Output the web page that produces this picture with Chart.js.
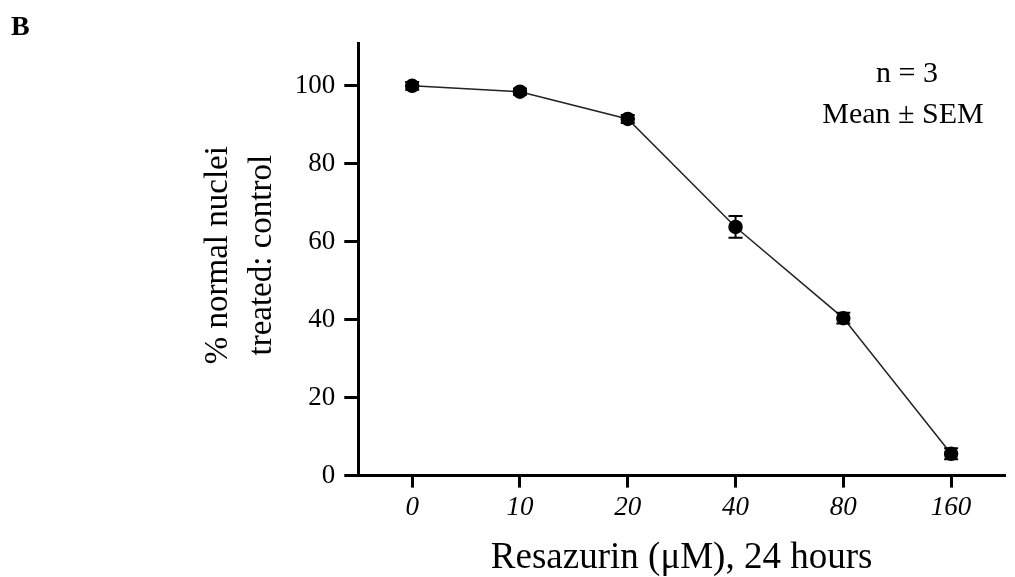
<!DOCTYPE html>
<html>
<head>
<meta charset="utf-8">
<script src="https://cdn.jsdelivr.net/npm/chart.js@4.4.1/dist/chart.umd.min.js"></script>
<style>
  html, body { margin: 0; padding: 0; background: #fff; }
  #wrap { width: 1015px; height: 577px; position: relative; }
</style>
</head>
<body>
<div id="wrap"><canvas id="resazurinChart"></canvas></div>
<script>
// Dose (µM) categories on the x axis
const doses = ['0', '10', '20', '40', '80', '160'];

// % normal nuclei (treated : control), mean of n = 3
const meanNuclei = [100, 98.5, 91.5, 63.8, 40.4, 5.6];

// standard error of the mean for each dose
const semNuclei = [1.0, 0.8, 1.0, 2.8, 1.4, 1.4];

// y axis tick values
const yTicks = [0, 20, 40, 60, 80, 100];

const SERIF = '"Liberation Serif", "Times New Roman", serif';

// error bars + panel letter + annotation
const extrasPlugin = {
  id: 'extras',
  afterDatasetsDraw(chart) {
    const ctx = chart.ctx;
    const x = chart.scales.x, y = chart.scales.y;
    ctx.save();
    ctx.strokeStyle = '#000';
    ctx.lineWidth = 2;
    meanNuclei.forEach((m, i) => {
      const px = x.getPixelForValue(i);
      const top = y.getPixelForValue(m + semNuclei[i]);
      const bot = y.getPixelForValue(m - semNuclei[i]);
      ctx.beginPath();
      ctx.moveTo(px, top); ctx.lineTo(px, bot);
      ctx.moveTo(px - 7, top); ctx.lineTo(px + 7, top);
      ctx.moveTo(px - 7, bot); ctx.lineTo(px + 7, bot);
      ctx.stroke();
    });
    ctx.restore();
  },
  afterDraw(chart) {
    const ctx = chart.ctx;
    ctx.save();
    ctx.fillStyle = '#000';
    ctx.textBaseline = 'middle';
    ctx.font = 'bold 28px ' + SERIF;
    ctx.textAlign = 'left';
    ctx.fillText('B', 11, 28);
    ctx.font = '30px ' + SERIF;
    ctx.textAlign = 'center';
    ctx.fillText('n = 3', 907, 74);
    ctx.fillText('Mean ± SEM', 903, 115);
    ctx.restore();
  }
};

const ctx = document.getElementById('resazurinChart').getContext('2d');

const resazurinChart = new Chart(ctx, {
  type: 'line',
  data: {
    labels: doses,
    datasets: [{
      data: meanNuclei,
      borderColor: '#222',
      borderWidth: 1.5,
      pointRadius: 6.5,
      pointBackgroundColor: '#000',
      pointBorderColor: '#000',
      tension: 0
    }]
  },
  options: {
    responsive: true,
    maintainAspectRatio: false,
    animation: false,
    layout: { padding: { left: 196, right: 10, top: 43, bottom: 0 } },
    plugins: {
      legend: { display: false },
      tooltip: { enabled: false }
    },
    scales: {
      x: {
        offset: true,
        grid: { drawOnChartArea: false, drawTicks: true, tickLength: 12, tickWidth: 3, tickColor: '#000' },
        border: { color: '#000', width: 3 },
        ticks: {
          color: '#000',
          padding: 4,
          font: { family: SERIF, size: 27, style: 'italic' }
        },
        title: {
          display: true,
          text: 'Resazurin (μM), 24 hours',
          color: '#000',
          padding: { top: 12, bottom: 0 },
          font: { family: SERIF, size: 37, lineHeight: 1.0 }
        }
      },
      y: {
        min: 0,
        max: 111,
        afterBuildTicks: s => { s.ticks = yTicks.map(v => ({ value: v })); },
        grid: { drawOnChartArea: false, drawTicks: true, tickLength: 14, tickWidth: 3, tickColor: '#000' },
        border: { color: '#000', width: 3 },
        ticks: {
          color: '#000',
          padding: 9,
          font: { family: SERIF, size: 27 }
        },
        title: {
          display: true,
          text: [' % normal nuclei', ' treated: control'],
          color: '#000',
          padding: { top: 0, bottom: 2 },
          font: { family: SERIF, size: 33, lineHeight: 1.33 }
        }
      }
    }
  },
  plugins: [extrasPlugin]
});
</script>
</body>
</html>
